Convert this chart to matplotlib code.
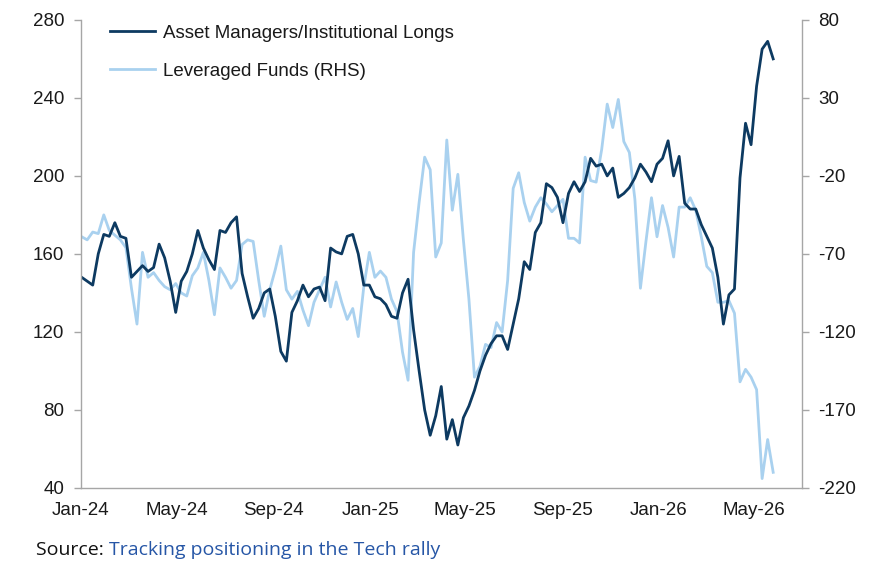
import matplotlib
matplotlib.use("Agg")
import matplotlib.pyplot as plt
import pandas as pd

plt.rcParams['font.family'] = ['Liberation Sans', 'DejaVu Sans']
plt.rcParams['axes.unicode_minus'] = False

start_date = "2024-01-02"
n_weeks = 126

asset_managers = [
    148, 146, 144, 160, 170, 169, 176, 169, 168, 148,
    151, 154, 151, 153, 165, 158, 146, 130, 146, 151,
    160, 172, 163, 157, 152, 172, 171, 176, 179, 150,
    138, 127, 132, 140, 142, 128, 110, 105, 130, 136,
    144, 138, 142, 143, 136, 163, 161, 160, 169, 170,
    160, 144, 144, 138, 137, 134, 128, 127, 140, 147,
    121, 100, 80, 67, 77, 92, 65, 75, 62, 76,
    82, 90, 100, 108, 114, 118, 118, 111, 124, 137,
    156, 152, 171, 176, 196, 194, 189, 176, 191, 197,
    192, 197, 209, 205, 206, 200, 204, 189, 191, 194,
    199, 206, 202, 197, 206, 209, 218, 200, 210, 186,
    183, 183, 175, 169, 163, 148, 124, 139, 142, 199,
    227, 216, 246, 265, 269, 260,
]

leveraged_funds = [
    -59, -61, -56, -57, -45, -55, -58, -61, -66, -92,
    -115, -69, -85, -82, -87, -91, -93, -89, -95, -97,
    -84, -79, -69, -87, -109, -79, -85, -92, -87, -64,
    -61, -62, -87, -110, -93, -80, -65, -93, -99, -94,
    -106, -116, -101, -93, -85, -104, -88, -101, -112, -105,
    -123, -91, -69, -85, -81, -85, -99, -107, -133, -151,
    -69, -37, -8, -16, -72, -63, 3, -42, -19, -61,
    -99, -149, -142, -128, -130, -114, -120, -87, -28, -18,
    -37, -49, -40, -34, -38, -43, -39, -35, -60, -60,
    -63, -8, -23, -24, -3, 26, 11, 29, 2, -5,
    -35, -92, -62, -34, -59, -39, -53, -72, -40, -40,
    -34, -42, -59, -78, -82, -101, -101, -100, -108, -152,
    -144, -149, -157, -214, -189, -210,
]

left_ticks = [40, 80, 120, 160, 200, 240, 280]
right_ticks = [-220, -170, -120, -70, -20, 30, 80]
x_tick_labels = ["Jan-24", "May-24", "Sep-24", "Jan-25", "May-25", "Sep-25", "Jan-26", "May-26"]
x_tick_dates = ["2024-01-01", "2024-05-01", "2024-09-01", "2025-01-01", "2025-05-01",
                "2025-09-01", "2026-01-01", "2026-05-01"]

label_am = "Asset Managers/Institutional Longs"
label_lf = "Leveraged Funds (RHS)"

dates = pd.date_range(start_date, periods=n_weeks, freq="7D")

dark = "#0d3a61"
light = "#a9d1ef"
spine_c = "#a6a6a6"
text_c = "#1a1a1a"
fs = 13.5

fig = plt.figure(figsize=(8.79, 5.68), dpi=100)
ax = fig.add_axes([0.092, 0.141, 0.820, 0.824])
ax2 = ax.twinx()

l2, = ax2.plot(dates, leveraged_funds, color=light, lw=2.0, label=label_lf)
l1, = ax.plot(dates, asset_managers, color=dark, lw=2.0, label=label_am)
ax.set_zorder(ax2.get_zorder() + 1)
ax.patch.set_visible(False)

ax.set_ylim(40, 280)
ax2.set_ylim(-220, 80)
ax.set_yticks(left_ticks)
ax2.set_yticks(right_ticks)
ax.set_xlim(pd.Timestamp("2024-01-01"), pd.Timestamp("2026-07-01"))
ax.set_xticks(pd.to_datetime(x_tick_dates))
ax.set_xticklabels(x_tick_labels)

for a in (ax, ax2):
    a.spines['top'].set_visible(False)
    for s in ('left', 'right', 'bottom'):
        a.spines[s].set_color(spine_c)
        a.spines[s].set_linewidth(1.0)
ax.spines['right'].set_visible(False)
ax2.spines['left'].set_visible(False)
ax2.spines['bottom'].set_visible(False)

ax.tick_params(axis='y', direction='out', length=5, width=1, color=spine_c,
               labelsize=fs, labelcolor=text_c, pad=7)
ax2.tick_params(axis='y', direction='out', length=5, width=1, color=spine_c,
                labelsize=fs, labelcolor=text_c, pad=7)
ax.tick_params(axis='x', length=0, labelsize=fs, labelcolor=text_c, pad=10)

leg = ax.legend(handles=[l1, l2], loc='upper left', bbox_to_anchor=(0.04, 0.99),
                frameon=False, fontsize=fs, handlelength=2.4, handletextpad=0.45,
                labelspacing=1.13, borderpad=0, borderaxespad=0)
for t in leg.get_texts():
    t.set_color(text_c)

fig.canvas.draw()
r = fig.canvas.get_renderer()
t1 = fig.text(0.041, 0.032, "Source: ", fontsize=14, color="#111111",
              family=['Open Sans', 'DejaVu Sans'], va='center')
bb = t1.get_window_extent(renderer=r)
x2 = bb.x1 / fig.bbox.width
fig.text(x2, 0.032, "Tracking positioning in the Tech rally", fontsize=14, color="#2656a6",
         family=['Open Sans', 'DejaVu Sans'], va='center')

fig.savefig("out.png", dpi=100)
